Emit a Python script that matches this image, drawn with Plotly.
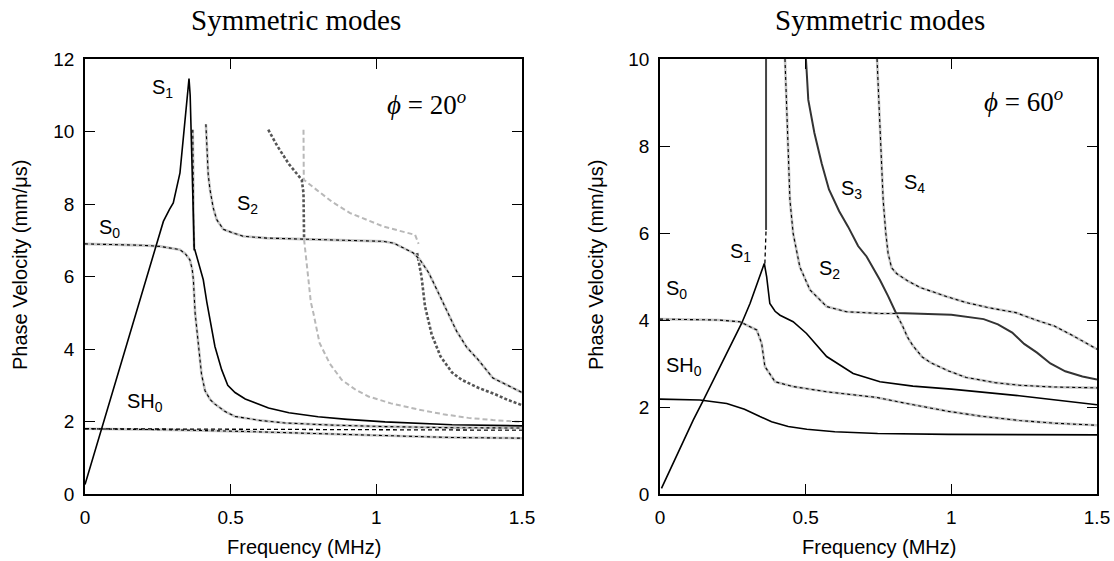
import plotly.graph_objects as go

# ---------------- phi = 20 deg (left panel) ----------------
s1_20_f = [0, 0.183, 0.246, 0.269, 0.29, 0.303, 0.326, 0.343, 0.357, 0.361, 0.365, 0.369, 0.372, 0.375,
           0.377, 0.395, 0.406, 0.418, 0.429, 0.446, 0.469, 0.49, 0.515, 0.55, 0.63, 0.70, 0.80, 0.90,
           1.03, 1.26, 1.5]
s1_20_v = [0.26, 5.18, 6.83, 7.52, 7.85, 8.03, 8.86, 10.23, 11.46, 11.0, 9.6, 8.0, 7.2, 6.74,
           6.74, 6.2, 5.91, 5.3, 4.81, 4.07, 3.43, 3.0, 2.8, 2.62, 2.37, 2.24, 2.13, 2.06,
           1.99, 1.91, 1.88]

s0_20_f = [0, 0.1, 0.2, 0.258, 0.3, 0.326, 0.345, 0.36, 0.368, 0.372, 0.378, 0.389, 0.40, 0.412,
           0.43, 0.446, 0.48, 0.515, 0.6, 0.687, 0.85, 1.03, 1.25, 1.5]
s0_20_v = [6.9, 6.89, 6.86, 6.83, 6.78, 6.74, 6.62, 6.46, 6.2, 5.91, 4.99, 4.07, 3.3, 2.85,
           2.6, 2.48, 2.28, 2.14, 2.03, 1.96, 1.9, 1.86, 1.83, 1.82]

vert_20_f = [0.37, 0.371, 0.373, 0.375]
vert_20_v = [10.05, 8.5, 7.2, 6.74]

s2_20_f = [0.415, 0.418, 0.423, 0.429, 0.44, 0.452, 0.475, 0.509, 0.543, 0.624, 0.75, 0.9, 1.024,
           1.06, 1.093, 1.127, 1.15, 1.18, 1.21, 1.24, 1.275, 1.31, 1.35, 1.40, 1.45, 1.5]
s2_20_v = [10.2, 9.5, 8.8, 8.4, 7.9, 7.57, 7.3, 7.2, 7.11, 7.06, 7.03, 7.0, 6.97,
           6.92, 6.79, 6.65, 6.46, 6.1, 5.6, 5.1, 4.5, 4.05, 3.7, 3.2, 3.0, 2.8]

dot_a_20_f = [0.629, 0.66, 0.70, 0.744, 0.75, 0.752]
dot_a_20_v = [10.05, 9.6, 9.1, 8.67, 8.3, 7.03]
dot_b_20_f = [1.14, 1.155, 1.167, 1.19, 1.22, 1.26, 1.293, 1.35, 1.408, 1.45, 1.5]
dot_b_20_v = [6.65, 6.0, 5.18, 4.4, 3.8, 3.35, 3.15, 2.93, 2.75, 2.6, 2.45]

lg_a_20_f = [0.75, 0.751, 0.795, 0.85, 0.91, 0.97, 1.024, 1.08, 1.133, 1.145]
lg_a_20_v = [10.05, 8.67, 8.39, 8.05, 7.75, 7.55, 7.38, 7.26, 7.15, 6.9]
lg_b_20_f = [0.752, 0.76, 0.767, 0.775, 0.784, 0.805, 0.84, 0.881, 0.93, 0.973, 1.05, 1.144,
             1.23, 1.316, 1.4, 1.5]
lg_b_20_v = [7.02, 6.5, 5.91, 5.3, 4.99, 4.17, 3.6, 3.15, 2.87, 2.69, 2.5, 2.33,
             2.2, 2.1, 2.04, 1.99]

sh0a_20_f = [0, 0.5, 1.0, 1.5]
sh0a_20_v = [1.8, 1.79, 1.77, 1.76]
sh0b_20_f = [0, 0.3, 0.573, 0.8, 1.03, 1.25, 1.5]
sh0b_20_v = [1.8, 1.77, 1.72, 1.66, 1.6, 1.56, 1.54]

# ---------------- phi = 60 deg (right panel) ----------------
s1_60_f = [0.005, 0.114, 0.149, 0.28, 0.309, 0.337, 0.358, 0.366, 0.377, 0.395, 0.412, 0.457,
           0.503, 0.572, 0.663, 0.755, 0.868, 1.0, 1.233, 1.5]
s1_60_v = [0.13, 1.70, 2.16, 3.92, 4.38, 4.92, 5.30, 5.0, 4.38, 4.2, 4.11, 3.96,
           3.69, 3.16, 2.77, 2.58, 2.48, 2.41, 2.26, 2.05]
s1v_dash_60_f = [0.36, 0.364]
s1v_dash_60_v = [5.3, 6.07]
s1v_solid_60_f = [0.364, 0.364]
s1v_solid_60_v = [6.07, 10.0]

sh0_60_f = [0, 0.137, 0.229, 0.29, 0.343, 0.383, 0.44, 0.504, 0.6, 0.747, 0.99, 1.5]
sh0_60_v = [2.18, 2.16, 2.08, 1.95, 1.78, 1.66, 1.55, 1.49, 1.43, 1.39, 1.37, 1.36]

s0_60_f = [0, 0.2, 0.274, 0.332, 0.349, 0.36, 0.395, 0.457, 0.572, 0.743, 0.87, 0.99, 1.1,
           1.233, 1.35, 1.5]
s0_60_v = [4.02, 4.0, 3.96, 3.77, 3.46, 2.93, 2.58, 2.47, 2.35, 2.22, 2.05, 1.9, 1.79,
           1.69, 1.63, 1.58]

s2_60_f = [0.429, 0.435, 0.44, 0.446, 0.457, 0.48, 0.515, 0.572, 0.64, 0.755, 0.81, 0.83, 0.85,
           0.868, 0.9, 0.929, 0.99, 1.051, 1.15, 1.233, 1.35, 1.5]
s2_60_v = [10.0, 9.06, 7.91, 6.76, 5.99, 5.22, 4.69, 4.31, 4.19, 4.15, 4.15, 3.9, 3.6,
           3.41, 3.15, 3.02, 2.83, 2.68, 2.56, 2.5, 2.46, 2.44]

s3_60_f = [0.501, 0.509, 0.53, 0.555, 0.58, 0.615, 0.646, 0.68, 0.709, 0.755, 0.783, 0.81,
           0.868, 1.0, 1.111, 1.16, 1.209, 1.25, 1.294, 1.34, 1.391, 1.45, 1.5]
s3_60_v = [10.0, 9.06, 8.3, 7.6, 7.0, 6.5, 6.14, 5.7, 5.46, 4.92, 4.55, 4.16,
           4.15, 4.12, 4.02, 3.9, 3.71, 3.45, 3.25, 3.0, 2.82, 2.7, 2.63]

s4_60_f = [0.745, 0.75, 0.755, 0.76, 0.766, 0.775, 0.783, 0.795, 0.812, 0.85, 0.892, 0.983,
           1.051, 1.13, 1.221, 1.29, 1.354, 1.42, 1.5]
s4_60_v = [10.0, 9.2, 8.29, 7.5, 6.76, 6.0, 5.53, 5.2, 5.07, 4.9, 4.75, 4.54,
           4.40, 4.28, 4.17, 4.0, 3.86, 3.63, 3.33]

# ---------------- labels ----------------
labels_20 = [("S<sub>1</sub>", 0.222, 11.2), ("S<sub>2</sub>", 0.515, 8.0),
             ("S<sub>0</sub>", 0.04, 7.32), ("SH<sub>0</sub>", 0.137, 2.52)]
labels_60 = [("S<sub>1</sub>", 0.234, 5.55), ("S<sub>0</sub>", 0.014, 4.71),
             ("S<sub>2</sub>", 0.538, 5.17), ("SH<sub>0</sub>", 0.014, 2.92),
             ("S<sub>3</sub>", 0.615, 7.01), ("S<sub>4</sub>", 0.829, 7.13)]

x_ticks = [0, 0.5, 1, 1.5]
x_ticktext = ["0", "0.5", "1", "1.5"]

fig = go.Figure()


def add(f, v, style, ax):
    xa, ya = ("x", "y") if ax == 1 else ("x2", "y2")
    common = dict(x=f, y=v, mode="lines", xaxis=xa, yaxis=ya, showlegend=False, hoverinfo="skip")
    if style == "solid":
        fig.add_trace(go.Scatter(line=dict(color="black", width=1.6), **common))
    elif style == "dark":
        fig.add_trace(go.Scatter(line=dict(color="#333333", width=2), **common))
    elif style == "dg":
        fig.add_trace(go.Scatter(line=dict(color="#c4c4c4", width=2.6), **common))
        fig.add_trace(go.Scatter(line=dict(color="black", width=1.1, dash="3px,3px"), **common))
    elif style == "lg":
        fig.add_trace(go.Scatter(line=dict(color="#b8b8b8", width=2, dash="5px,3px"), **common))
    elif style == "dot":
        fig.add_trace(go.Scatter(line=dict(color="#555555", width=2.6, dash="3px,2px"), **common))
    elif style == "dash":
        fig.add_trace(go.Scatter(line=dict(color="black", width=1.3, dash="4px,3px"), **common))
    elif style == "vline":
        fig.add_trace(go.Scatter(line=dict(color="#444444", width=2), **common))


# left panel
add(sh0b_20_f, sh0b_20_v, "dg", 1)
add(sh0a_20_f, sh0a_20_v, "dash", 1)
add(lg_a_20_f, lg_a_20_v, "lg", 1)
add(lg_b_20_f, lg_b_20_v, "lg", 1)
add(dot_a_20_f, dot_a_20_v, "dot", 1)
add(dot_b_20_f, dot_b_20_v, "dot", 1)
add(s2_20_f, s2_20_v, "dg", 1)
add(vert_20_f, vert_20_v, "dg", 1)
add(s0_20_f, s0_20_v, "dg", 1)
add(s1_20_f, s1_20_v, "solid", 1)

# right panel
add(sh0_60_f, sh0_60_v, "solid", 2)
add(s0_60_f, s0_60_v, "dg", 2)
add(s2_60_f, s2_60_v, "dg", 2)
add(s4_60_f, s4_60_v, "dg", 2)
add(s3_60_f, s3_60_v, "dark", 2)
add(s1v_dash_60_f, s1v_dash_60_v, "dash", 2)
add(s1v_solid_60_f, s1v_solid_60_v, "vline", 2)
add(s1_60_f, s1_60_v, "solid", 2)

W, H = 1114, 561
ydom = [(H - 494) / H, (H - 59) / H]

tickfont = dict(family="Liberation Sans, Arial, sans-serif", size=19, color="black")
axis_common = dict(showline=True, linecolor="black", linewidth=1.5, mirror="ticks",
                   ticks="inside", ticklen=10, tickwidth=1, tickcolor="black",
                   showgrid=False, zeroline=False, tickfont=tickfont, automargin=False)

fig.update_layout(
    width=W, height=H,
    margin=dict(l=0, r=0, t=0, b=0),
    paper_bgcolor="white", plot_bgcolor="white",
    xaxis=dict(domain=[85 / W, 522 / W], range=[0, 1.5], tickvals=x_ticks, ticktext=x_ticktext,
               anchor="y", ticklabelstandoff=5, **axis_common),
    yaxis=dict(domain=ydom, range=[0, 12], tickvals=[0, 2, 4, 6, 8, 10, 12], anchor="x",
               ticklabelstandoff=5, **axis_common),
    xaxis2=dict(domain=[660 / W, 1097 / W], range=[0, 1.5], tickvals=x_ticks, ticktext=x_ticktext,
                anchor="y2", ticklabelstandoff=5, **axis_common),
    yaxis2=dict(domain=ydom, range=[0, 10], tickvals=[0, 2, 4, 6, 8, 10], anchor="x2",
                ticklabelstandoff=5, **axis_common),
)

ann = []
lab_font = dict(family="Liberation Sans, Arial, sans-serif", size=20, color="black")
for t, x, y in labels_20:
    ann.append(dict(text=t, x=x, y=y, xref="x", yref="y", xanchor="left", yanchor="middle",
                    showarrow=False, font=lab_font))
for t, x, y in labels_60:
    ann.append(dict(text=t, x=x, y=y, xref="x2", yref="y2", xanchor="left", yanchor="middle",
                    showarrow=False, font=lab_font))

serif = "Liberation Serif, Times New Roman, serif"
ann.append(dict(text="<i>ϕ</i> = 20<sup><i>o</i></sup>", x=1.03, y=10.8, xref="x", yref="y",
                xanchor="left", yanchor="middle", showarrow=False,
                font=dict(family=serif, size=27, color="black")))
ann.append(dict(text="<i>ϕ</i> = 60<sup><i>o</i></sup>", x=1.104, y=9.06, xref="x2", yref="y2",
                xanchor="left", yanchor="middle", showarrow=False,
                font=dict(family=serif, size=27, color="black")))

title_font = dict(family=serif, size=29, color="black")
ann.append(dict(text="Symmetric modes", x=296 / W, y=(H - 20) / H, xref="paper", yref="paper",
                xanchor="center", yanchor="middle", showarrow=False, font=title_font))
ann.append(dict(text="Symmetric modes", x=880 / W, y=(H - 20) / H, xref="paper", yref="paper",
                xanchor="center", yanchor="middle", showarrow=False, font=title_font))

axt_font = dict(family="Liberation Sans, Arial, sans-serif", size=20, color="black")
for cx in [303.5, 878.5]:
    ann.append(dict(text="Frequency (MHz)", x=cx / W, y=(H - 547) / H, xref="paper", yref="paper",
                    xanchor="center", yanchor="middle", showarrow=False, font=axt_font))
for cx in [20, 596]:
    ann.append(dict(text="Phase Velocity (mm/μs)", x=cx / W, y=(H - 265) / H, xref="paper",
                    yref="paper", xanchor="center", yanchor="middle", textangle=-90,
                    showarrow=False, font=axt_font))

fig.update_layout(annotations=ann)
fig.write_html("out.html", config={"displayModeBar": False},
               post_script="document.body.style.margin='0px';")
